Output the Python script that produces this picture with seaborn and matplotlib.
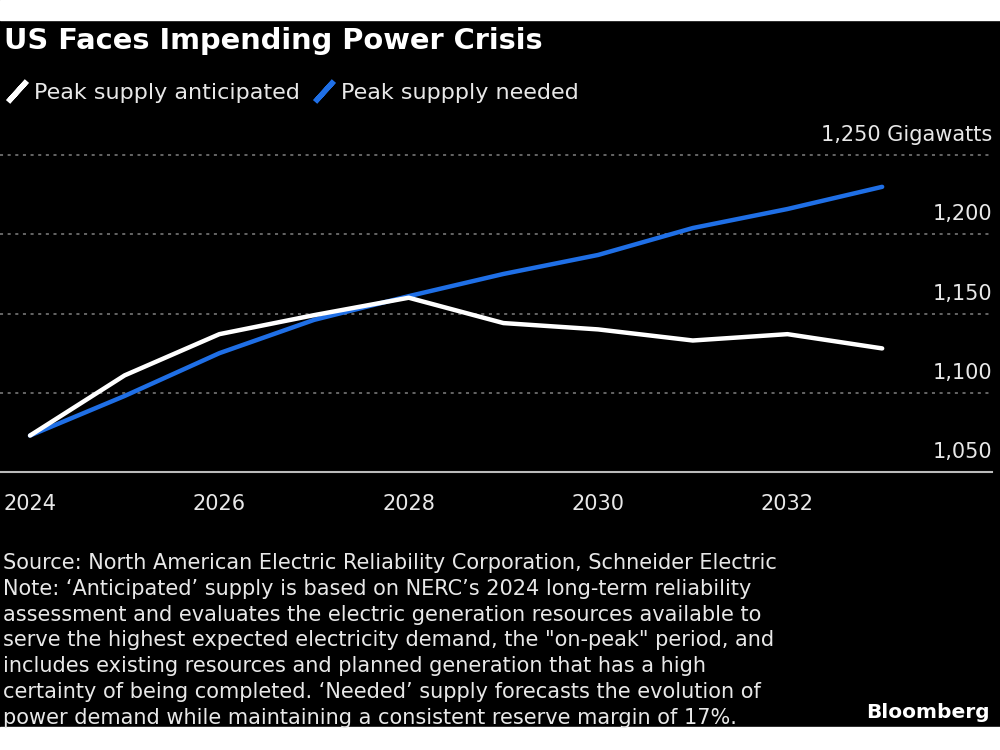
import numpy as np
import pandas as pd
import matplotlib
matplotlib.use("Agg")
import matplotlib.pyplot as plt
from matplotlib.lines import Line2D
from matplotlib.patches import Rectangle
import matplotlib.transforms as mtransforms
import seaborn as sns

# Data (gigawatts)
years = [2024, 2025, 2026, 2027, 2028, 2029, 2030, 2031, 2032, 2033]
anticipated = [1073, 1111, 1137, 1149, 1160, 1144, 1140, 1133, 1137, 1128]
needed = [1073, 1098, 1125, 1146, 1161, 1175, 1187, 1204, 1216, 1230]

series_names = ["Peak supply anticipated", "Peak suppply needed"]
series_colors = ["#ffffff", "#1f6fe6"]

x_ticks = [2024, 2026, 2028, 2030, 2032]
y_ticks = [1050, 1100, 1150, 1200, 1250]
y_labels = ["1,050", "1,100", "1,150", "1,200", "1,250 Gigawatts"]

title = "US Faces Impending Power Crisis"
footnote = (
    "Source: North American Electric Reliability Corporation, Schneider Electric\n"
    "Note: \u2018Anticipated\u2019 supply is based on NERC\u2019s 2024 long-term reliability\n"
    "assessment and evaluates the electric generation resources available to\n"
    "serve the highest expected electricity demand, the \"on-peak\" period, and\n"
    "includes existing resources and planned generation that has a high\n"
    "certainty of being completed. \u2018Needed\u2019 supply forecasts the evolution of\n"
    "power demand while maintaining a consistent reserve margin of 17%."
)

df = pd.DataFrame({
    "year": years * 2,
    "gw": anticipated + needed,
    "series": [series_names[0]] * len(years) + [series_names[1]] * len(years),
})

sns.set_style("dark")
plt.rcParams["font.family"] = ["DejaVu Sans"]
text_col = "#e8e8e8"

fig = plt.figure(figsize=(10, 7.5), dpi=100, facecolor="black")
# white strips above and below the black card
fig.add_artist(Rectangle((0, 1 - 20 / 750), 1, 20 / 750, transform=fig.transFigure,
                         color="white", zorder=0))
fig.add_artist(Rectangle((0, 0), 1, 23 / 750, transform=fig.transFigure,
                         color="white", zorder=0))

ax = fig.add_axes([0.0, 0.3707, 0.992, 0.4330])
ax.set_facecolor("black")

palette = dict(zip(series_names, series_colors))
# needed first so the white line sits on top
for name in [series_names[1], series_names[0]]:
    sns.lineplot(data=df[df["series"] == name], x="year", y="gw", color=palette[name],
                 linewidth=3.2, ax=ax, legend=False, solid_capstyle="round",
                 solid_joinstyle="round")

ax.set_xlim(2023.683, 2034.16)
ax.set_ylim(1050, 1255)

# dotted gridlines
for v in y_ticks[1:]:
    ax.axhline(v, color="#808080", linestyle=(0, (2, 3)), linewidth=1.1, zorder=0)

ax.set_xticks(x_ticks)
ax.set_xticklabels([str(t) for t in x_ticks], color=text_col, fontsize=15)
ax.set_yticks([])
ax.tick_params(axis="x", colors="#bbbbbb", length=8, width=1.3, pad=8, labelcolor=text_col)
ax.grid(False)
for side in ["top", "left", "right"]:
    ax.spines[side].set_visible(False)
ax.spines["bottom"].set_color("#bbbbbb")
ax.spines["bottom"].set_linewidth(1.5)
ax.set_xlabel("")
ax.set_ylabel("")

# y labels sit above their gridlines at the right edge
trans = mtransforms.blended_transform_factory(ax.transAxes, ax.transData)
offset = mtransforms.offset_copy(trans, fig=fig, x=0, y=10, units="dots")
for v, lab in zip(y_ticks, y_labels):
    ax.text(1.0, v, lab, transform=offset, ha="right", va="bottom",
            color=text_col, fontsize=15)

fig.text(0.004, 1 - 41 / 750, title, color="white", fontsize=20.8,
         fontweight="bold", va="center", ha="left")

handles = [Line2D([], [], linestyle="none", marker=(2, 2, -42), markersize=20,
                  markeredgewidth=3.8, markeredgecolor=c) for c in series_colors]
fig.legend(handles, series_names, loc="center left", bbox_to_anchor=(-0.012, 1 - 93 / 750),
           ncol=2, frameon=False, handlelength=0.8, handletextpad=0.35, columnspacing=0.7,
           fontsize=16, labelcolor=text_col)

fig.text(0.003, 1 - 553 / 750, footnote, color=text_col, fontsize=15,
         va="top", ha="left", linespacing=1.36)

fig.text(0.99, 1 - 712 / 750, "Bloomberg", color="white", fontsize=14.5,
         fontweight="bold", va="center", ha="right")

fig.savefig("out.png", dpi=100, facecolor=fig.get_facecolor())
